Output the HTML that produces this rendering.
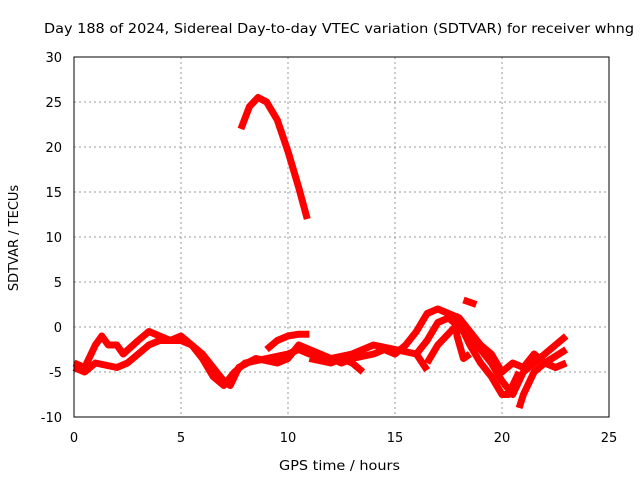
<!DOCTYPE html>
<html><head><meta charset="utf-8"><style>
body{margin:0;background:#fff}
svg text{font-family:"DejaVu Sans","Liberation Sans",sans-serif;font-size:13px;fill:#000}
</style></head><body>
<svg id="chart" width="640" height="480">
<text x="44" y="33" textLength="590" lengthAdjust="spacingAndGlyphs">Day 188 of 2024, Sidereal Day-to-day VTEC variation (SDTVAR) for receiver whng</text>
<text x="279" y="470" textLength="121" lengthAdjust="spacingAndGlyphs">GPS time / hours</text>
<text transform="translate(18,238) rotate(-90)" text-anchor="middle">SDTVAR / TECUs</text>
<g id="grid"></g><g id="series"></g>
<rect x="74" y="57" width="535" height="360" fill="none" stroke="#000" stroke-width="1"/>
</svg>
<script>
const xTicks=[0,5,10,15,20,25];
const yTicks=[-10,-5,0,5,10,15,20,25,30];
const arc=[[7.8,22],[8.2,24.5],[8.6,25.5],[9.0,25],[9.5,23],[10.0,19.5],[10.5,15.5],[10.9,12]];
const s1=[[0,-4],[0.5,-4.5],[1,-2],[1.3,-1],[1.6,-2],[2,-2],[2.3,-3],[3,-1.5],[3.5,-0.5],[4,-1],[4.5,-1.5],[5,-1],[5.5,-2],[6,-3.5],[6.5,-5.5],[7,-6.5],[7.5,-5],[8,-4],[9,-3.5],[10,-3],[10.5,-2.5],[11,-3],[12,-3.5],[13,-3],[14,-2],[15,-2.5],[16,-3],[16.5,-1.5],[17,0.5],[17.5,1],[18,0],[18.5,-1],[19,-2.5],[19.5,-4],[20,-6],[20.5,-7.5],[21,-5],[21.5,-4],[22,-3],[22.5,-2],[23,-1]];
const s2=[[0,-4.5],[0.5,-5],[1,-4],[2,-4.5],[2.5,-4],[3,-3],[3.5,-2],[4,-1.5],[5,-1.5],[5.5,-2],[6,-3],[6.5,-4.5],[7,-6],[7.3,-6.5],[7.7,-4.5],[8.5,-3.5],[9.5,-4],[10,-3.5],[10.5,-2],[11,-2.5],[12,-3.5],[12.5,-4],[13,-3.5],[14,-3],[14.5,-2.5],[15,-3],[15.5,-2],[16,-0.5],[16.5,1.5],[17,2],[17.5,1.5],[18,1],[18.5,-0.5],[19,-2],[19.5,-3],[20,-5],[20.5,-4],[21,-4.5],[21.5,-3],[22,-4],[22.5,-4.5],[23,-4]];
const s3=[[9,-2.5],[9.5,-1.5],[10,-1],[10.5,-0.8],[11,-0.8]];
const s4=[[11,-3.5],[12,-4],[12.5,-3.5],[13,-4],[13.5,-5]];
const s5=[[16,-3],[16.5,-4.8]];
const s6=[[18.2,3],[18.8,2.5]];
const s7=[[16.5,-4],[17,-2],[18,0.5],[18.5,-2],[19,-4],[19.5,-5.5],[20,-7.5],[20.3,-7.5],[20.8,-5]];
const s8=[[20.8,-9],[21,-7.5],[21.5,-5],[22,-4],[23,-2.5]];
const s9=[[17.8,1.5],[17.9,-1],[18.2,-3.5],[18.5,-3]];
const allSeries=[arc,s1,s2,s3,s4,s5,s6,s7,s8,s9];
const X=v=>74+v*535/25, Y=v=>417-(v+10)*9;
const ns="http://www.w3.org/2000/svg", g=document.getElementById('grid'), sg=document.getElementById('series');
xTicks.forEach(t=>{
 const l=document.createElementNS(ns,'line');
 
 
 l.setAttribute('x1',X(t));l.setAttribute('x2',X(t));l.setAttribute('y1',57);l.setAttribute('y2',417);
 l.setAttribute('stroke','#999');l.setAttribute('stroke-dasharray','2,3');g.appendChild(l);
 const tx=document.createElementNS(ns,'text');
 
 
 tx.setAttribute('x',X(t));tx.setAttribute('y',442);tx.setAttribute('text-anchor','middle');tx.textContent=t;g.appendChild(tx);
});
yTicks.forEach(t=>{
 const l=document.createElementNS(ns,'line');
 
 
 l.setAttribute('x1',74);l.setAttribute('x2',609);l.setAttribute('y1',Y(t));l.setAttribute('y2',Y(t));
 l.setAttribute('stroke','#999');l.setAttribute('stroke-dasharray','2,3');g.appendChild(l);
 const tx=document.createElementNS(ns,'text');
 
 
 tx.setAttribute('x',62);tx.setAttribute('y',Y(t)+5);tx.setAttribute('text-anchor','end');tx.textContent=t;g.appendChild(tx);
});
allSeries.forEach(s=>{
 const p=document.createElementNS(ns,'polyline');
 
 
 p.setAttribute('points',s.map(d=>X(d[0])+','+Y(d[1])).join(' '));
 p.setAttribute('fill','none');p.setAttribute('stroke','#f00');p.setAttribute('stroke-width','7');p.setAttribute('stroke-linejoin','round');
 sg.appendChild(p);
});
</script>
</body></html>
